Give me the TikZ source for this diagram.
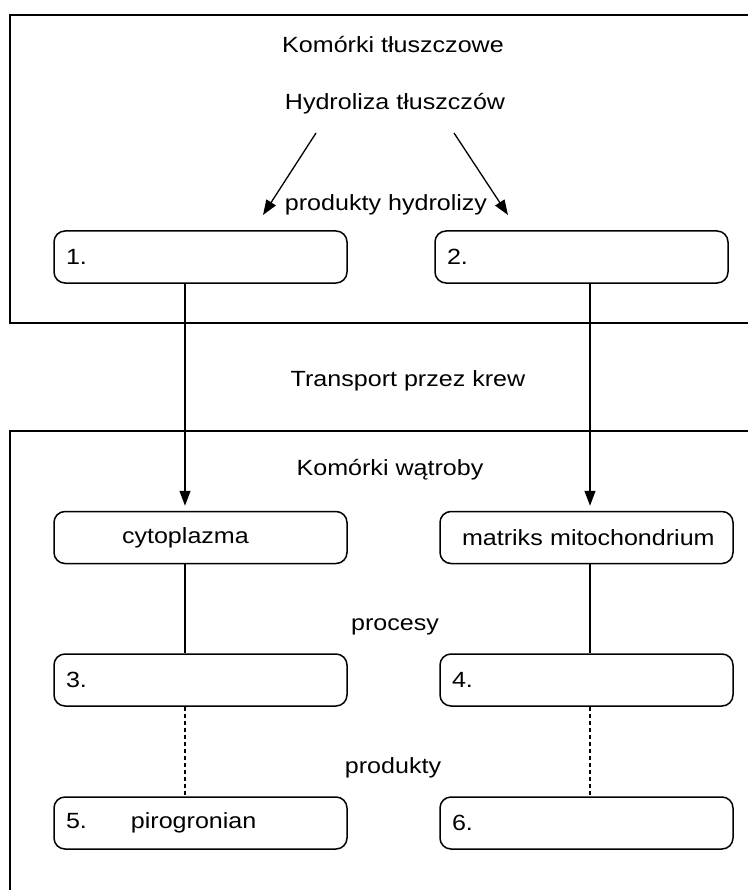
\documentclass[tikz,border=0pt]{standalone}
\usepackage{fontspec}
\setmainfont[FakeStretch=1.14]{Liberation Sans}
\usetikzlibrary{arrows.meta}
\begin{document}
\begin{tikzpicture}[
    x=1pt, y=-1pt,
    line width=1.3pt,
    font=\fontsize{22}{26}\selectfont,
    cell/.style={draw, rounded corners=11pt, minimum width=293pt, minimum height=52pt,
      text width=269pt, align=left, inner sep=0pt, line width=1.5pt},
    frame/.style={line width=2.4pt},
    caption/.style={anchor=base},
    arrowtip/.style={-{Triangle[length=15pt,width=11pt]}}
  ]
    \useasboundingbox (0,0) rectangle (748,890);

    % 1. Ramki
    \draw[frame] (748,15) -| (10,323) -- (748,323);
    \draw[frame] (748,431) -| (10,890);

    % 2. Napisy
    \node[caption] (fat) at (393,53) {Komórki tłuszczowe};
    \node[caption] (hydro) at (395,110) {Hydroliza tłuszczów};
    \node[caption] (prodh) at (386,211) {produkty hydrolizy};
    \node[caption] (blood) at (408,386) {Transport przez krew};
    \node[caption] (liver) at (390,475) {Komórki wątroby};
    \node[caption] (proc) at (395,630) {procesy};
    \node[caption] (prod) at (393,773) {produkty};

    % 3. Pola
    \node[cell] (b1) at (200.5,257) {1.};
    \node[cell] (b2) at (581.5,257) {2.};
    \node[cell] (cyt) at (200.5,537.5) {\hspace*{56pt}cytoplazma};
    \node[cell] (mat) at (586.5,537.5) {\hspace*{10pt}matriks mitochondrium};
    \node[cell] (b3) at (200.5,680) {3.};
    \node[cell] (b4) at (586.5,680) {4.};
    \node[cell] (b5) at (200.5,823) {5.\hspace*{44pt}pirogronian};
    \node[cell] (b6) at (586.5,823) {6.};

    % 4. Linie i strzałki
    \coordinate (L) at (185,0);
    \coordinate (R) at (590,0);
    \coordinate (hl) at (316,133);
    \coordinate (hr) at (454,133);
    \coordinate (pl) at (263,215);
    \coordinate (pr) at (508,215);

    \draw[arrowtip] (hl) -- (pl);
    \draw[arrowtip] (hr) -- (pr);
    \draw[arrowtip, shorten >=5pt] (b1.south -| L) -- (cyt.north -| L);
    \draw[arrowtip, shorten >=5pt] (b2.south -| R) -- (mat.north -| R);
    \draw (cyt.south -| L) -- (b3.north -| L);
    \draw (mat.south -| R) -- (b4.north -| R);
    \foreach \top/\bot/\col in {b3/b5/L, b4/b6/R} {
        \draw[dash pattern=on 4pt off 3pt] (\top.south -| \col) -- (\bot.north -| \col);
    }

  \end{tikzpicture}
\end{document}
